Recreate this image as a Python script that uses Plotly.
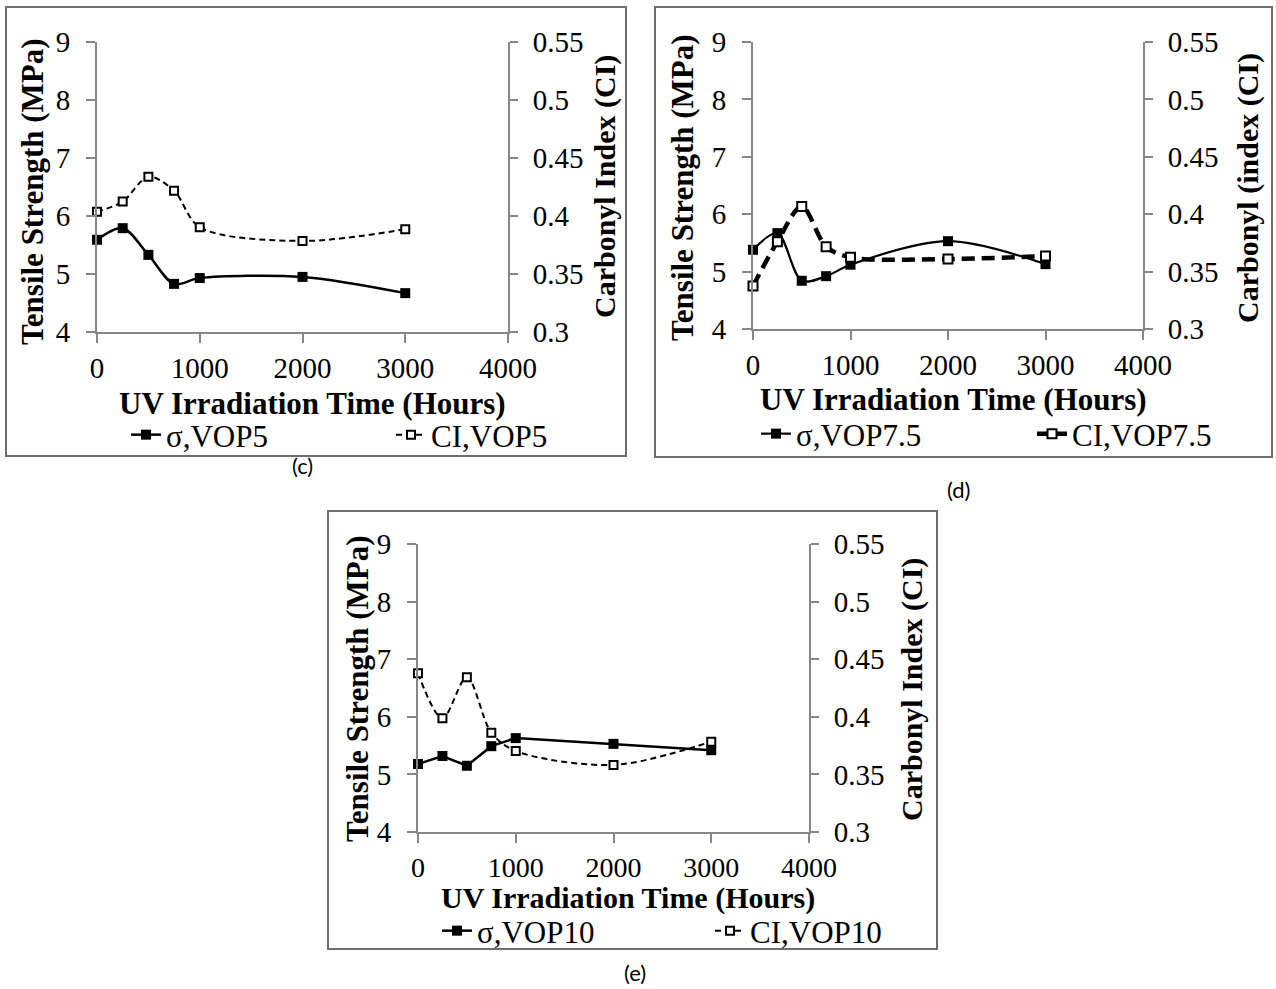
import plotly.graph_objects as go

W, H = 1276, 989

# ---------------- data ----------------
hours = [0, 250, 500, 750, 1000, 2000, 3000]

sigma_vop5 = [5.59, 5.79, 5.33, 4.83, 4.93, 4.95, 4.67]
ci_vop5 = [0.4037, 0.4124, 0.4339, 0.4218, 0.3903, 0.3785, 0.3886]

sigma_vop75 = [5.38, 5.67, 4.84, 4.92, 5.12, 5.53, 5.13]
ci_vop75 = [0.3375, 0.3760, 0.4066, 0.3717, 0.3624, 0.3610, 0.3636]

sigma_vop10 = [5.18, 5.32, 5.15, 5.49, 5.63, 5.53, 5.42]
ci_vop10 = [0.4378, 0.3987, 0.4343, 0.3862, 0.3703, 0.3582, 0.3784]

x_ticks = [0, 1000, 2000, 3000, 4000]
left_ticks = [4, 5, 6, 7, 8, 9]
right_ticks = [0.30, 0.35, 0.40, 0.45, 0.50, 0.55]
right_tick_text = ["0.3", "0.35", "0.4", "0.45", "0.5", "0.55"]

legend_names = [("σ,VOP5", "CI,VOP5"), ("σ,VOP7.5", "CI,VOP7.5"), ("σ,VOP10", "CI,VOP10")]
left_titles = ["Tensile Strength (MPa)"] * 3
right_titles = ["Carbonyl Index (CI)", "Carbonyl (index (CI)", "Carbonyl Index (CI)"]
panel_labels = ["(c)", "(d)", "(e)"]

# ---------------- helpers ----------------
def px(x):
    return x / W


def py(y):
    return 1 - y / H


SERIF = "Liberation Serif"
AXIS_COL = "#878787"

# panel geometry (pixels): plot area left, right, top, bottom
panels = [
    dict(l=97, r=508, t=42, b=332, frame=(6, 7, 626, 456),
         xt=(312, 403), lt=(32, 192), rt=(605, 187), leg=(126, 435), lab=(302, 466),
         spacing=220, shapes=("spline", "spline"), ciw=2, cidash="6px,4px", cisize=8, sw=2.5,
         xtick=29, xtitle=31),
    dict(l=753, r=1143, t=42, b=329, frame=(655, 7, 1272, 457),
         xt=(953, 400), lt=(683, 188), rt=(1248, 188), leg=(756, 434), lab=(958, 490),
         spacing=231, shapes=("spline", "spline"), ciw=4.5, cidash="13px,7px", cisize=9, sw=2.2,
         xtick=29, xtitle=31),
    dict(l=418, r=809, t=544, b=832, frame=(328, 511, 937, 949),
         xt=(628, 898), lt=(357, 689), rt=(912, 689), leg=(437, 931), lab=(635, 972),
         spacing=228, shapes=("linear", "spline"), ciw=2, cidash="6px,4px", cisize=8, sw=2.5,
         xtick=28, xtitle=30),
]

data_sets = [
    (sigma_vop5, ci_vop5),
    (sigma_vop75, ci_vop75),
    (sigma_vop10, ci_vop10),
]

fig = go.Figure()
layout = {}
annotations = []
shapes = []

for i, (p, (sig, ci)) in enumerate(zip(panels, data_sets)):
    xa = "x" if i == 0 else f"x{i + 1}"
    ya_l = f"y{2 * i + 1}" if i > 0 else "y"
    ya_r = f"y{2 * i + 2}"
    leg = "legend" if i == 0 else f"legend{i + 1}"

    fig.add_trace(go.Scatter(
        x=hours, y=sig, xaxis=xa, yaxis=ya_l, name=legend_names[i][0], legend=leg,
        mode="lines+markers", cliponaxis=False,
        line=dict(color="black", width=p["sw"], shape=p["shapes"][0], smoothing=0.9),
        marker=dict(symbol="square", size=10, color="black"),
    ))
    fig.add_trace(go.Scatter(
        x=hours, y=ci, xaxis=xa, yaxis=ya_r, name=legend_names[i][1], legend=leg,
        mode="lines+markers", cliponaxis=False,
        line=dict(color="black", width=p["ciw"], dash=p["cidash"], shape=p["shapes"][1], smoothing=0.9),
        marker=dict(symbol="square", size=p["cisize"], color="white",
                    line=dict(color="black", width=2)),
    ))

    xkey = "xaxis" if i == 0 else f"xaxis{i + 1}"
    ylkey = "yaxis" if i == 0 else f"yaxis{2 * i + 1}"
    yrkey = f"yaxis{2 * i + 2}"

    layout[xkey] = dict(
        domain=[px(p["l"]), px(p["r"])], anchor=ya_l, range=[0, 4000],
        tickvals=x_ticks, ticktext=[str(v) for v in x_ticks],
        showline=True, linecolor=AXIS_COL, linewidth=2, ticks="outside", ticklen=9,
        tickcolor=AXIS_COL, tickwidth=2, showgrid=False, zeroline=False,
        tickfont=dict(family=SERIF, size=p["xtick"], color="black"),
        ticklabelstandoff=0, fixedrange=True, automargin=False,
    )
    layout[ylkey] = dict(
        domain=[py(p["b"]), py(p["t"])], anchor=xa, range=[4, 9],
        tickvals=left_ticks, ticktext=[str(v) for v in left_ticks],
        showline=True, linecolor=AXIS_COL, linewidth=2, ticks="outside", ticklen=9,
        tickcolor=AXIS_COL, tickwidth=2, showgrid=False, zeroline=False,
        tickfont=dict(family=SERIF, size=29, color="black"),
        ticklabelstandoff=10, fixedrange=True, automargin=False,
    )
    layout[yrkey] = dict(
        domain=[py(p["b"]), py(p["t"])], anchor=xa, overlaying=ya_l, side="right",
        range=[0.3, 0.55], tickvals=right_ticks, ticktext=right_tick_text,
        showline=True, linecolor=AXIS_COL, linewidth=2, ticks="outside", ticklen=8,
        tickcolor=AXIS_COL, tickwidth=2, showgrid=False, zeroline=False,
        tickfont=dict(family=SERIF, size=29, color="black"),
        ticklabelstandoff=9, fixedrange=True, automargin=False,
    )

    layout[leg] = dict(
        orientation="h", x=px(p["leg"][0]), y=py(p["leg"][1]), xanchor="left", yanchor="middle",
        font=dict(family=SERIF, size=31, color="black"), bgcolor="rgba(0,0,0,0)",
        entrywidth=p["spacing"], entrywidthmode="pixels", itemwidth=30,
    )

    # frame
    fl, ft, fr, fb = p["frame"]
    shapes.append(dict(type="rect", xref="paper", yref="paper",
                       x0=px(fl), x1=px(fr), y0=py(fb), y1=py(ft),
                       line=dict(color="#6e6e6e", width=2), fillcolor="rgba(0,0,0,0)", layer="below"))

    annotations.append(dict(text="<b>UV Irradiation Time (Hours)</b>", xref="paper", yref="paper",
                            x=px(p["xt"][0]), y=py(p["xt"][1]), showarrow=False,
                            xanchor="center", yanchor="middle",
                            font=dict(family=SERIF, size=p["xtitle"], color="black")))
    annotations.append(dict(text=f"<b>{left_titles[i]}</b>", xref="paper", yref="paper",
                            x=px(p["lt"][0]), y=py(p["lt"][1]), showarrow=False, textangle=-90,
                            xanchor="center", yanchor="middle",
                            font=dict(family=SERIF, size=31, color="black")))
    annotations.append(dict(text=f"<b>{right_titles[i]}</b>", xref="paper", yref="paper",
                            x=px(p["rt"][0]), y=py(p["rt"][1]), showarrow=False, textangle=-90,
                            xanchor="center", yanchor="middle",
                            font=dict(family=SERIF, size=30, color="black")))
    annotations.append(dict(text=panel_labels[i], xref="paper", yref="paper",
                            x=px(p["lab"][0]), y=py(p["lab"][1]), showarrow=False,
                            xanchor="center", yanchor="middle",
                            font=dict(family="Lato", size=22, color="black")))

fig.update_layout(
    width=W, height=H, margin=dict(l=0, r=0, t=0, b=0, pad=0, autoexpand=False),
    paper_bgcolor="white", plot_bgcolor="rgba(0,0,0,0)",
    showlegend=True, annotations=annotations, shapes=shapes,
    **layout,
)

fig.write_html("out.html")
